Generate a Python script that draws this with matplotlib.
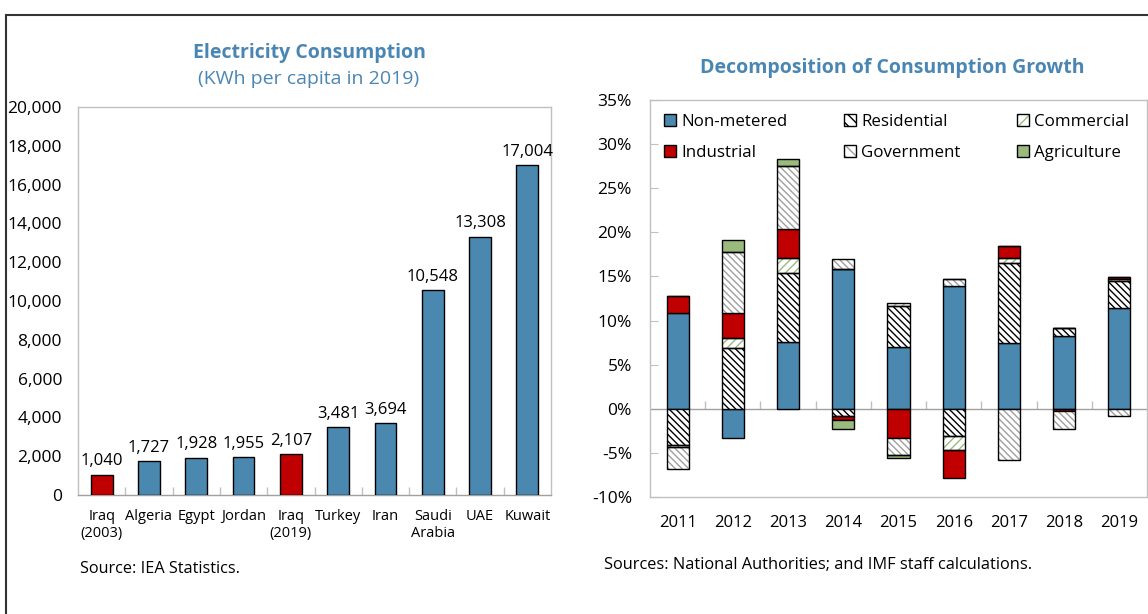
import matplotlib
matplotlib.use("Agg")
import matplotlib.pyplot as plt
import matplotlib.patches
import matplotlib.ticker
import numpy

plt.rcParams["font.family"] = ["Open Sans", "DejaVu Sans"]
plt.rcParams["hatch.linewidth"] = 1.0

# left panel: electricity consumption per capita
countries = ["Iraq\n(2003)", "Algeria", "Egypt", "Jordan", "Iraq\n(2019)",
             "Turkey", "Iran", "Saudi\nArabia", "UAE", "Kuwait"]
consumption = [1040, 1727, 1928, 1955, 2107, 3481, 3694, 10548, 13308, 17004]
highlight = ["Iraq\n(2003)", "Iraq\n(2019)"]

# right panel: decomposition of consumption growth (percent)
years = ["2011", "2012", "2013", "2014", "2015", "2016", "2017", "2018", "2019"]
non_metered = [10.9, -3.3, 7.6, 15.9, 7.0, 13.9, 7.5, 8.3, 11.4]
residential = [-4.1, 6.9, 7.8, -0.8, 4.6, -3.1, 9.0, 0.9, 3.1]
commercial = [-0.2, 1.1, 1.7, 0.0, 0.4, -1.6, 0.6, 0.0, 0.2]
industrial = [1.9, 2.9, 3.3, -0.5, -3.3, -3.2, 1.3, -0.3, 0.2]
government = [-2.5, 6.9, 7.1, 1.1, -1.9, 0.8, -5.8, -2.0, -0.8]
agriculture = [0.0, 1.3, 0.8, -1.0, -0.4, 0.0, 0.0, 0.0, 0.0]

BLUE = "#4A88B0"
RED = "#C00000"
GREEN = "#9BBB7E"
TITLE = "#4A86B4"
FRAME = "#C0C0C0"

# name, values, face, hatch, hatch colour
components = [
    ("Non-metered", non_metered, BLUE, None, None),
    ("Residential", residential, "white", "\\\\\\\\\\", "black"),
    ("Commercial", commercial, "white", "////", GREEN),
    ("Industrial", industrial, RED, None, None),
    ("Government", government, "white", "\\\\\\\\\\", "#A0A0A0"),
    ("Agriculture", agriculture, GREEN, None, None),
]

fig = plt.figure(figsize=(11.48, 6.14), dpi=100)
W, H = 1148, 614


def frame_axes(ax):
    for s in ax.spines.values():
        s.set_color(FRAME)
        s.set_linewidth(1.0)


# ---------------- left panel ----------------
ax1 = fig.add_axes([78 / W, 1 - 495 / H, (551 - 78) / W, (495 - 107) / H])
x1 = numpy.arange(len(countries))
colors = [RED if c in highlight else BLUE for c in countries]
bars = ax1.bar(x1, consumption, width=0.46, color=colors, edgecolor="black", linewidth=1.0, zorder=3)
for rect, v in zip(bars, consumption):
    ax1.annotate(f"{v:,}", (rect.get_x() + rect.get_width() / 2, v), xytext=(0, 4),
                 textcoords="offset points", ha="center", va="bottom", fontsize=12)
ax1.set_xlim(-0.5, len(countries) - 0.5)
ax1.set_ylim(0, 20000)
ax1.set_yticks(numpy.arange(0, 20001, 2000))
ax1.yaxis.set_major_formatter(matplotlib.ticker.FuncFormatter(lambda v, p: f"{int(v):,}"))
ax1.tick_params(axis="y", length=0, pad=11.5, labelsize=12.5)
ax1.set_xticks(x1)
ax1.set_xticklabels(countries, fontsize=10.5, linespacing=1.2, va="top")
ax1.tick_params(axis="x", which="major", length=0, pad=10)
ax1.set_xticks(x1[:-1] + 0.5, minor=True)
ax1.tick_params(axis="x", which="minor", direction="in", length=6, color=FRAME, width=1)
frame_axes(ax1)
ax1.spines["bottom"].set_color("#A0A0A0")

fig.text(309 / W, 1 - 53 / H, "Electricity Consumption", ha="center", va="center",
         fontsize=14, fontweight="bold", color=TITLE)
fig.text(309 / W, 1 - 79 / H, "(KWh per capita in 2019)", ha="center", va="center",
         fontsize=14, color=TITLE)
fig.text(80 / W, 1 - 569 / H, "Source: IEA Statistics.", ha="left", va="center", fontsize=11.7)

# ---------------- right panel ----------------
ax2 = fig.add_axes([650 / W, 1 - 497 / H, (1147 - 650) / W, (497 - 100) / H])
x2 = numpy.arange(len(years))
pos_base = numpy.zeros(len(years))
neg_base = numpy.zeros(len(years))
handles = []
for name, vals, face, hatch, hcol in components:
    vals = numpy.array(vals)
    bottom = numpy.where(vals >= 0, pos_base, neg_base)
    if hatch:
        ax2.bar(x2, vals, bottom=bottom, width=0.4, color=face, edgecolor=hcol,
                hatch=hatch, linewidth=0, zorder=3)
        ax2.bar(x2, vals, bottom=bottom, width=0.4, fill=False, edgecolor="black",
                linewidth=1.0, zorder=4)
        h = (matplotlib.patches.Patch(facecolor=face, edgecolor=hcol, hatch="\\\\\\" if "\\" in hatch else "///", linewidth=0),
             matplotlib.patches.Patch(fill=False, edgecolor="black", linewidth=1.0))
    else:
        ax2.bar(x2, vals, bottom=bottom, width=0.4, color=face, edgecolor="black",
                linewidth=1.0, zorder=3)
        h = matplotlib.patches.Patch(facecolor=face, edgecolor="black", linewidth=1.0)
    handles.append((h, name))
    pos_base = pos_base + numpy.where(vals > 0, vals, 0)
    neg_base = neg_base + numpy.where(vals < 0, vals, 0)

ax2.set_xlim(-0.5, len(years) - 0.5)
ax2.set_ylim(-10, 35)
ax2.set_yticks(numpy.arange(-10, 36, 5))
ax2.yaxis.set_major_formatter(matplotlib.ticker.FuncFormatter(lambda v, p: f"{int(v)}%"))
ax2.tick_params(axis="y", direction="in", length=6, color=FRAME, pad=13, labelsize=12.5)
ax2.set_xticks(x2)
ax2.set_xticklabels(years, fontsize=12)
ax2.tick_params(axis="x", length=0, pad=13)
frame_axes(ax2)
ax2.axhline(0, color="#A0A0A0", linewidth=1.0, zorder=2)

zero_axis = ax2.secondary_xaxis(10 / 45)
zero_axis.set_xticks(x2[:-1] + 0.5)
zero_axis.set_xticklabels([])
zero_axis.tick_params(direction="in", length=6, color=FRAME, width=1)
zero_axis.spines["bottom"].set_visible(False)
zero_axis.spines["top"].set_visible(False)

order = [0, 3, 1, 4, 2, 5]
ax2.legend([handles[i][0] for i in order], [handles[i][1] for i in order],
           ncol=3, loc="upper left", bbox_to_anchor=(0.0, 1.0), frameon=False,
           fontsize=12.2, handlelength=0.75, handleheight=0.75, handletextpad=0.3,
           columnspacing=3.3, labelspacing=0.9, borderaxespad=0.4)

fig.text(892 / W, 1 - 68 / H, "Decomposition of Consumption Growth", ha="center", va="center",
         fontsize=14, fontweight="bold", color=TITLE)
fig.text(604 / W, 1 - 565 / H, "Sources: National Authorities; and IMF staff calculations.",
         ha="left", va="center", fontsize=11.8)

# outer border of the figure panel (cut off at right and bottom)
fig.add_artist(matplotlib.patches.Rectangle((6 / W, -0.1), 1.2, 1 - 15 / H + 0.1,
                                            transform=fig.transFigure, fill=False,
                                            edgecolor="#333333", linewidth=1.5))

fig.savefig("out.png", dpi=100)
